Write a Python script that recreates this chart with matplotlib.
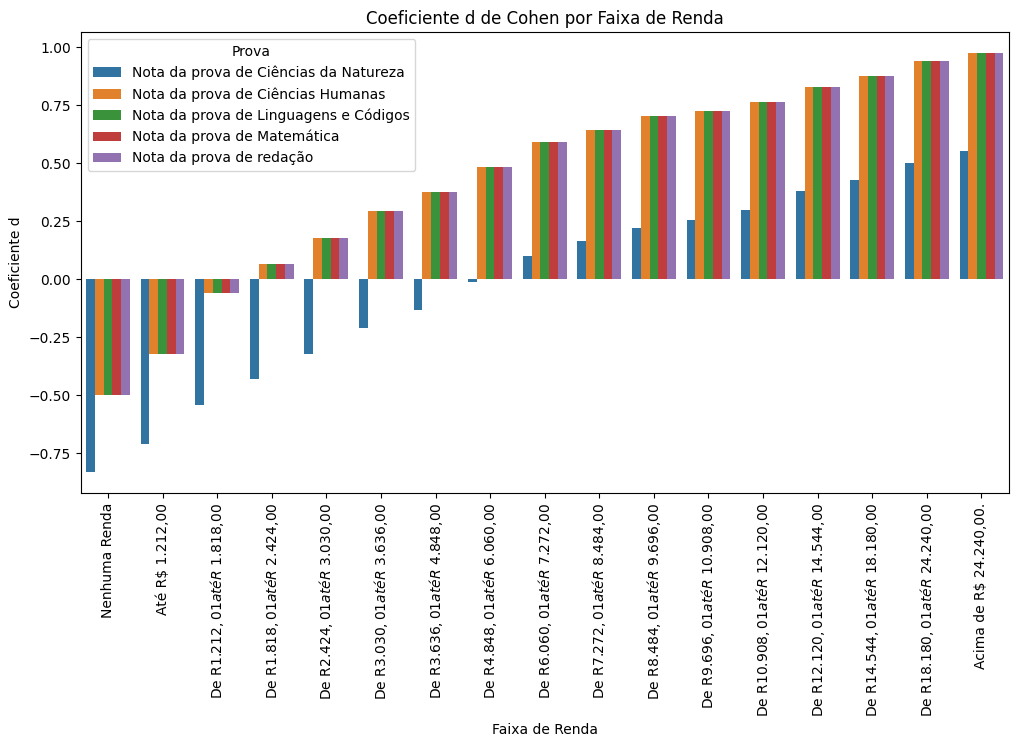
import matplotlib
matplotlib.use("Agg")
import matplotlib.pyplot as plt
import numpy as np

categories = ["Nenhuma Renda", "Até R$ 1.212,00",
    "De R$ 1.212,01 até R$ 1.818,00", "De R$ 1.818,01 até R$ 2.424,00",
    "De R$ 2.424,01 até R$ 3.030,00", "De R$ 3.030,01 até R$ 3.636,00",
    "De R$ 3.636,01 até R$ 4.848,00", "De R$ 4.848,01 até R$ 6.060,00",
    "De R$ 6.060,01 até R$ 7.272,00", "De R$ 7.272,01 até R$ 8.484,00",
    "De R$ 8.484,01 até R$ 9.696,00", "De R$ 9.696,01 até R$ 10.908,00",
    "De R$ 10.908,01 até R$ 12.120,00", "De R$ 12.120,01 até R$ 14.544,00",
    "De R$ 14.544,01 até R$ 18.180,00", "De R$ 18.180,01 até R$ 24.240,00",
    "Acima de R$ 24.240,00."]
series = ["Nota da prova de Ciências da Natureza", "Nota da prova de Ciências Humanas",
          "Nota da prova de Linguagens e Códigos", "Nota da prova de Matemática",
          "Nota da prova de redação"]
natureza = [-0.83, -0.71, -0.54, -0.43, -0.32, -0.21, -0.13, -0.01, 0.10, 0.165, 0.22, 0.255, 0.30, 0.38, 0.43, 0.50, 0.555]
outras = [-0.50, -0.32, -0.06, 0.065, 0.18, 0.295, 0.375, 0.485, 0.59, 0.645, 0.705, 0.725, 0.765, 0.83, 0.875, 0.94, 0.975]
values = [natureza, outras, outras, outras, outras]
colors = ["#3274a1", "#e1812c", "#3a923a", "#c03d3e", "#9372b2"]

fig = plt.figure(figsize=(10.21, 7.48), dpi=100)
ax = fig.add_axes([0.079, 0.341, 0.909, 0.616])
x = np.arange(len(categories))
w = 0.8 / 5
for i, (s, v) in enumerate(zip(series, values)):
    ax.bar(x - 0.4 + w * (i + 0.5), v, w, color=colors[i], label=s)
ax.set_xticks(x)
ax.set_xticklabels(categories, rotation=90)
ax.set_xlim(-0.5, len(categories) - 0.5)
ax.set_title("Coeficiente d de Cohen por Faixa de Renda")
ax.set_xlabel("Faixa de Renda")
ax.set_ylabel("Coeficiente d")
ax.legend(title="Prova", loc="upper left")
fig.savefig("out.png", dpi=100)
